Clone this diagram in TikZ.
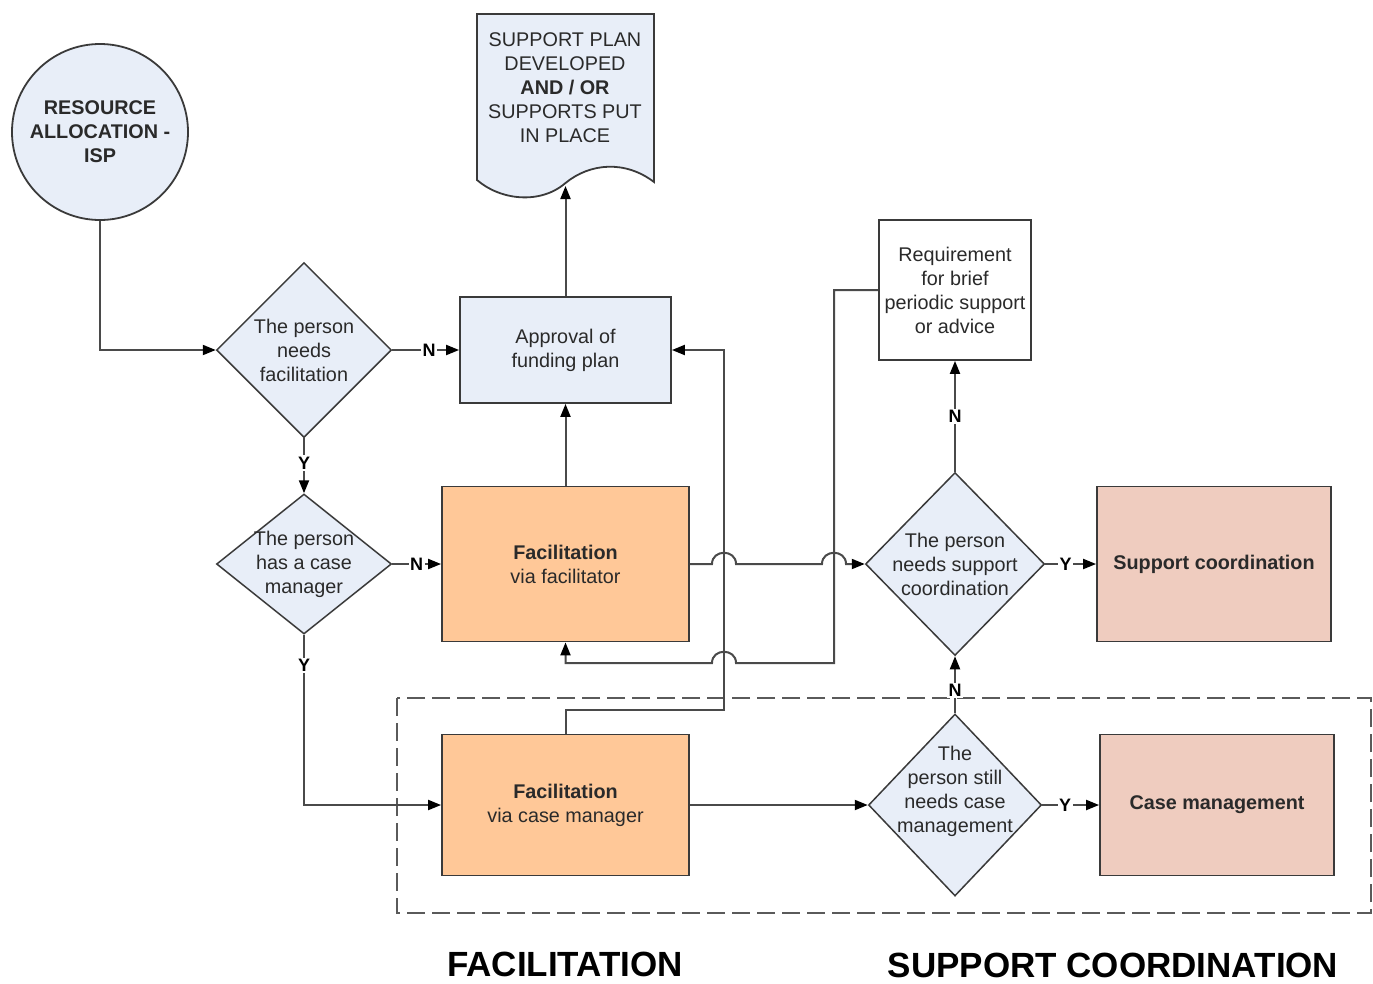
\documentclass[tikz,border=0pt]{standalone}
\usepackage{fontspec}
\setmainfont{Liberation Sans}
\usetikzlibrary{shapes.geometric,arrows.meta}
\definecolor{bfill}{HTML}{E8EEF8}
\definecolor{ofill}{HTML}{FFC898}
\definecolor{pfill}{HTML}{EFCCBF}
\definecolor{bord}{HTML}{3A3A3A}
\definecolor{lc}{HTML}{4A4A4A}
\definecolor{txtc}{HTML}{2A2A2A}
\definecolor{dashc}{HTML}{5A5A5A}
\newcommand\boxfnt{\fontsize{19.8}{24}\selectfont}
\newcommand\lblfnt{\fontsize{18}{20}\selectfont\bfseries}
\newcommand\titlefnt{\fontsize{35}{40}\selectfont\bfseries}
\begin{document}
\begin{tikzpicture}[x=1pt,y=-1pt,
  box/.style={draw=bord, line width=1.8pt, inner sep=0pt, align=center, font=\boxfnt, text=txtc},
  dia/.style={diamond, draw=bord, line width=1.5pt, fill=bfill, inner sep=0pt},
  dtxt/.style={align=center, font=\boxfnt, text=txtc, inner sep=0pt},
  conn/.style={draw=lc, line width=2pt},
  arr/.style={conn, -{Triangle[length=13pt,width=10pt,color=black,fill=black]}},
  lbl/.style={fill=white, inner sep=1.5pt, font=\lblfnt, text=black},
  title/.style={font=\titlefnt, text=black, inner sep=0pt}]
\useasboundingbox (0,0) rectangle (1373,983);
\fill[white] (0,0) rectangle (1373,983);

% dashed frame
\draw[dashc, line width=2.2pt, dash pattern=on 18pt off 7pt] (397,698) rectangle (1371,913);

% document shape
\draw[fill=bfill, draw=bord, line width=1.8pt] (477,14) -- (654,14) -- (654,182)
  .. controls (625,160) and (590,163) .. (565.5,183)
  .. controls (540,205) and (500,200) .. (477,180) -- cycle;
\node[dtxt] (doc) at (565,88) {SUPPORT PLAN\\DEVELOPED\\\textbf{AND / OR}\\SUPPORTS PUT\\IN PLACE};
\coordinate (docb) at (565.5,186);

% start circle
\node[circle, draw=bord, line width=1.8pt, fill=bfill, minimum size=176pt, inner sep=0pt,
  align=center, font=\boxfnt\bfseries, text=txtc] (res) at (100,132) {RESOURCE\\ALLOCATION -\\ISP};

% diamonds
\node[dia, minimum width=175pt, minimum height=175pt] (d1) at (304,350) {};
\node[dtxt] at (d1) {The person\\needs\\facilitation};
\node[dia, minimum width=175pt, minimum height=140pt] (d2) at (304,564) {};
\node[dtxt] at (d2) {The person\\has a case\\manager};
\node[dia, minimum width=179pt, minimum height=183pt] (d3) at (955,564) {};
\node[dtxt] at (d3) {The person\\needs support\\coordination};
\node[dia, minimum width=173pt, minimum height=182pt] (d4) at (955,805) {};
\node[dtxt] at (955,791) {The\\person still\\needs case\\management};

% boxes
\node[box, fill=bfill, minimum width=211pt, minimum height=106pt] (appr) at (565.5,350) {Approval of\\funding plan};
\node[box, fill=ofill, minimum width=247pt, minimum height=155pt] (fac1) at (565.5,564) {\textbf{Facilitation}\\via facilitator};
\node[box, fill=ofill, minimum width=247pt, minimum height=141pt] (fac2) at (565.5,805) {\textbf{Facilitation}\\via case manager};
\node[box, fill=white, minimum width=152pt, minimum height=140pt] (req) at (955,290) {Requirement\\for brief\\periodic support\\or advice};
\node[box, fill=pfill, minimum width=234pt, minimum height=155pt, font=\boxfnt\bfseries] (sc) at (1214,564) {Support coordination};
\node[box, fill=pfill, minimum width=234pt, minimum height=141pt, font=\boxfnt\bfseries] (cm) at (1217,805) {Case management};

% helper coordinates
\coordinate (c1) at (724,710);
\coordinate (c2) at (834,290);
\coordinate (c3) at (834,663);
\coordinate (h1a) at (712,564); \coordinate (h1b) at (736,564);
\coordinate (h2a) at (822,564); \coordinate (h2b) at (846,564);
\coordinate (h3a) at (736,663); \coordinate (h3b) at (712,663);
\coordinate (c4) at (565.5,663);

% connectors
\draw[arr] (res.south) |- (d1.west);
\draw[arr] (d1.east) -- node[lbl, pos=0.55] {N} (appr.west);
\draw[arr] (appr.north) -- (docb);
\draw[arr] (d1.south) -- node[lbl, pos=0.45] {Y} (d2.north);
\draw[arr] (d2.east) -- node[lbl] {N} (fac1.west);
\draw[arr] (fac1.north) -- (appr.south);
\draw[arr] (d2.south) |- node[lbl, pos=0.09] {Y} (fac2.west);
\draw[arr] (fac2.north) |- (c1) |- (appr.east);
\draw[arr] (fac1.east) -- (h1a) .. controls (712,549) and (736,549) .. (h1b) -- (h2a)
  .. controls (822,549) and (846,549) .. (h2b) -- (d3.west);
\draw[arr] (req.west) -- (c2) -- (c3) -- (h3a) .. controls (736,648) and (712,648) .. (h3b) -- (c4) -- (fac1.south);
\draw[arr] (d3.north) -- node[lbl] {N} (req.south);
\draw[arr] (d3.east) -- node[lbl, pos=0.4] {Y} (sc.west);
\draw[arr] (d4.north) -- node[lbl, pos=0.4] {N} (d3.south);
\draw[arr] (fac2.east) -- (d4.west);
\draw[arr] (d4.east) -- node[lbl, pos=0.4] {Y} (cm.west);

% titles
\node[title] (t1) at (565,964) {FACILITATION};
\node[title] (t2) at (1113,965) {SUPPORT COORDINATION};
\end{tikzpicture}
\end{document}
